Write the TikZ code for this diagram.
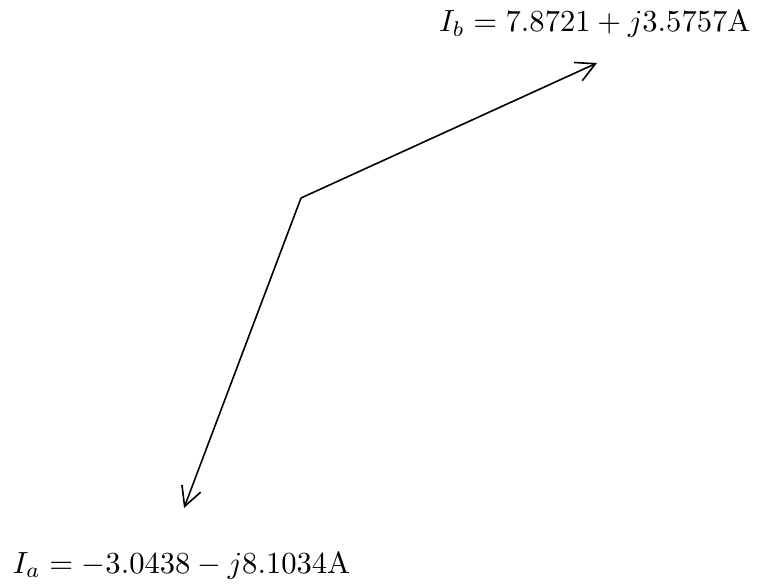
\documentclass[tikz,border=0pt]{standalone}
\usetikzlibrary{arrows.meta}
\begin{document}
\begin{tikzpicture}[x=1pt,y=-1pt,
  phasor/.style={line width=1.6pt,-{Straight Barb[length=19pt,width=20pt,line width=1.6pt]}},
  lbl/.style={inner sep=0pt,scale=3.06}]
\useasboundingbox (0,0) rectangle (757,588);
\coordinate (O) at (301,198);
\coordinate (B) at (597,63);
\coordinate (A) at (184,508);
\draw[phasor] (O) -- (B);
\draw[phasor] (O) -- (A);
\node[lbl,anchor=base east] (lb) at (751,32) {$I_b = 7.8721 + j3.5757\mathrm{A}$};
\node[lbl,anchor=base west] (la) at (12,573) {$I_a = -3.0438 - j8.1034\mathrm{A}$};
\end{tikzpicture}
\end{document}
